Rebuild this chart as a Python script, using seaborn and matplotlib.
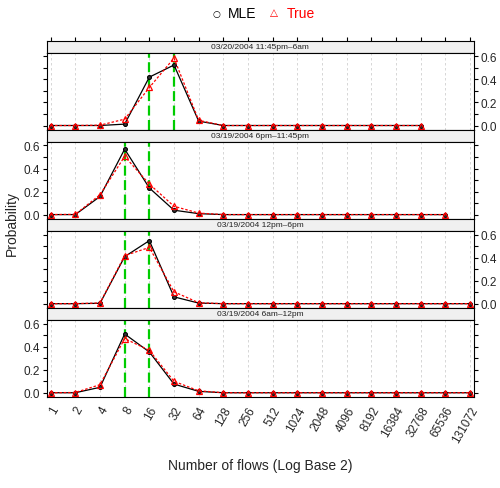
import numpy as np
import pandas as pd
import matplotlib
matplotlib.use("Agg")
import matplotlib.pyplot as plt
import seaborn as sns
from matplotlib.ticker import FixedLocator

sns.set_style("white")
plt.rcParams['font.family'] = ['Liberation Sans', 'DejaVu Sans']

# ---- data ----
flow_labels = ["1", "2", "4", "8", "16", "32", "64", "128", "256", "512", "1024",
               "2048", "4096", "8192", "16384", "32768", "65536", "131072"]

panel_titles = ["03/20/2004 11:45pm\u20136am",
                "03/19/2004 6pm\u201311:45pm",
                "03/19/2004 12pm\u20136pm",
                "03/19/2004 6am\u201312pm"]

mle_p1 = [0, 0, 0, 0.012, 0.42, 0.525, 0.038, 0, 0, 0, 0, 0, 0, 0, 0, 0]
true_p1 = [0, 0, 0.003, 0.055, 0.33, 0.585, 0.045, 0, 0, 0, 0, 0, 0, 0, 0, 0]

mle_p2 = [0, 0, 0.157, 0.568, 0.231, 0.038, 0.008, 0, 0, 0, 0, 0, 0, 0, 0, 0, 0]
true_p2 = [0, 0.002, 0.172, 0.505, 0.265, 0.072, 0.013, 0, 0, 0, 0, 0, 0, 0, 0, 0, 0]

mle_p3 = [0, 0, 0.003, 0.408, 0.547, 0.059, 0.005, 0, 0, 0, 0, 0, 0, 0, 0, 0, 0, 0]
true_p3 = [0, 0, 0.006, 0.417, 0.488, 0.103, 0.008, 0, 0, 0, 0, 0, 0, 0, 0, 0, 0, 0]

mle_p4 = [0, 0, 0.047, 0.51, 0.354, 0.075, 0.012, 0, 0, 0, 0, 0, 0, 0, 0, 0, 0, 0]
true_p4 = [0, 0.002, 0.07, 0.47, 0.368, 0.099, 0.017, 0, 0, 0, 0, 0, 0, 0, 0, 0, 0, 0]

# reference (green) flow values per panel
ref_flows = [["16", "32"], ["8", "16"], ["8", "16"], ["8", "16"]]

mle_all = [mle_p1, mle_p2, mle_p3, mle_p4]
true_all = [true_p1, true_p2, true_p3, true_p4]

# ---- figure ----
W, H = 500, 489
fig = plt.figure(figsize=(W / 100, H / 100), dpi=100)

left_px, right_px = 46.7, 474.0
top_px, bottom_px = 41.7, 398.0
strip_h = 12.0
period = (bottom_px - top_px) / 4
panel_h = period - strip_h

xlim = (-0.16, 17.16)
ylim = (-0.037, 0.632)
pos = np.arange(len(flow_labels))

def fx(px):
    return px / W

def fy(py):
    return 1 - py / H

for i in range(4):
    s_top = top_px + i * period
    p_top = s_top + strip_h
    p_bot = p_top + panel_h
    # strip
    sax = fig.add_axes([fx(left_px), fy(p_top), fx(right_px) - fx(left_px), strip_h / H])
    sax.set_facecolor("#f0f0f0")
    sax.set_xlim(xlim)
    sax.set_ylim(0, 1)
    sax.set_yticks([])
    sax.text(0.5, 0.5, panel_titles[i], transform=sax.transAxes, ha="center",
             va="center", fontsize=6, color="#222222")
    for sp in sax.spines.values():
        sp.set_linewidth(0.8)
        sp.set_color("black")
    if i == 0:
        sax.xaxis.set_ticks_position("top")
        sax.set_xticks(pos)
        sax.set_xticklabels([])
        sax.tick_params(axis="x", direction="out", length=3.2, width=0.8, color="black")
    else:
        sax.set_xticks([])

    ax = fig.add_axes([fx(left_px), fy(p_bot), fx(right_px) - fx(left_px), panel_h / H])
    ax.set_xlim(xlim)
    ax.set_ylim(ylim)
    for xp in pos:
        ax.axvline(xp, color="#d0d0d0", lw=0.6, ls=(0, (3, 3)), zorder=0)

    m = mle_all[i]
    t = true_all[i]
    df = pd.DataFrame({
        "flows": list(pos[:len(m)]) + list(pos[:len(t)]),
        "prob": m + t,
        "series": ["MLE"] * len(m) + ["True"] * len(t),
    })
    for rf in ref_flows[i]:
        ax.axvline(flow_labels.index(rf), color="#00cc00", lw=1.6,
                   ls=(0, (4.5, 2)), zorder=1)
    sns.lineplot(data=df[df.series == "True"], x="flows", y="prob", ax=ax,
                 color="red", lw=0.9, marker="^", markersize=4,
                 markerfacecolor="none", markeredgecolor="red", markeredgewidth=0.9,
                 linestyle=(0, (2, 1.5)), legend=False, zorder=3)
    sns.lineplot(data=df[df.series == "MLE"], x="flows", y="prob", ax=ax,
                 color="black", lw=0.9, marker="o", markersize=2.8,
                 markerfacecolor="#333333", markeredgecolor="black", markeredgewidth=0.8,
                 legend=False, zorder=2)
    ax.set_xlabel("")
    ax.set_ylabel("")
    for sp in ax.spines.values():
        sp.set_linewidth(0.8)
        sp.set_color("black")
    ax.yaxis.set_major_locator(FixedLocator([0, 0.2, 0.4, 0.6]))
    ax.yaxis.set_minor_locator(FixedLocator([0.1, 0.3, 0.5]))
    ax.tick_params(axis="y", which="both", direction="out", length=3.2, width=0.8,
                   left=True, right=True, labelsize=8.5, color="black", pad=1.5)
    if i % 2 == 0:
        ax.tick_params(axis="y", labelleft=False, labelright=True)
    else:
        ax.tick_params(axis="y", labelleft=True, labelright=False)
    ax.set_yticklabels(["0.0", "0.2", "0.4", "0.6"])
    ax.set_xticks(pos)
    if i == 3:
        ax.set_xticklabels(flow_labels, rotation=60, ha="right",
                           rotation_mode="anchor", fontsize=8.5)
        ax.tick_params(axis="x", direction="out", length=3.2, width=0.8,
                       color="black", pad=2)
    else:
        ax.set_xticklabels([])
        ax.tick_params(axis="x", length=0)

# legend
fig.text(fx(216), fy(14), "\u25cb", ha="center", va="center", fontsize=6.5, color="black",
         family=["DejaVu Sans"])
fig.text(fx(228), fy(14), "MLE", ha="left", va="center", fontsize=10, color="black")
fig.text(fx(274), fy(13), "\u25b3", ha="center", va="center", fontsize=7.5, color="red",
         family=["DejaVu Sans"])
fig.text(fx(287), fy(14), "True", ha="left", va="center", fontsize=10, color="red")

fig.text(fx(12), fy(224), "Probability", rotation=90, ha="center", va="center", fontsize=10)
fig.text(fx(260), fy(466), "Number of flows (Log Base 2)", ha="center", va="center",
         fontsize=10)

fig.savefig("out.png", dpi=100)
